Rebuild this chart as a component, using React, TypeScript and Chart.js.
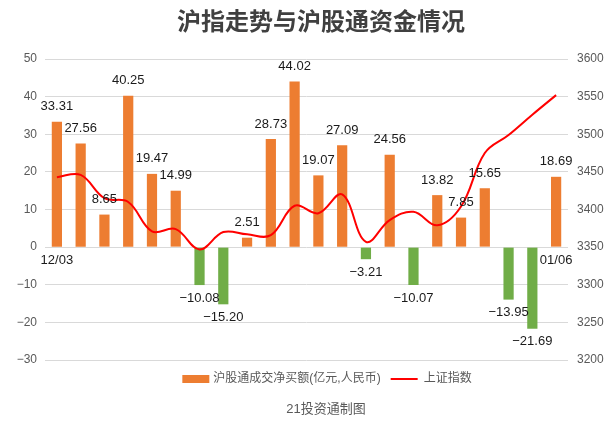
import React, { useEffect, useRef } from "react";
import { Chart, registerables } from "chart.js";

Chart.register(...registerables);

const categories = [
  "12/03", "12/04", "12/07", "12/08", "12/09", "12/10", "12/11", "12/14", "12/15", "12/16", "12/17",
  "12/18", "12/21", "12/22", "12/23", "12/28", "12/29", "12/30", "12/31", "01/04", "01/05", "01/06",
];
const netBuy = [
  33.31, 27.56, 8.65, 40.25, 19.47, 14.99, -10.08, -15.2, 2.51, 28.73, 44.02,
  19.07, 27.09, -3.21, 24.56, -10.07, 13.82, 7.85, 15.65, -13.95, -21.69, 18.69,
];
const shIndex = [
  3443, 3446, 3415, 3410, 3371, 3374, 3347, 3370, 3367, 3366, 3405,
  3395, 3420, 3357, 3386, 3397, 3379, 3404, 3475, 3499, 3526, 3552,
];
const leftAxis = { min: -30, max: 50, step: 10 };
const rightAxis = { min: 3200, max: 3600, step: 50 };
const TITLE = "沪指走势与沪股通资金情况";
const BAR_LABEL = "沪股通成交净买额(亿元,人民币)";
const LINE_LABEL = "上证指数";
const SOURCE = "21投资通制图";

const FONT = '"Liberation Sans", "Noto Sans CJK SC", sans-serif';
const CJK = '"Noto Sans CJK SC", "Liberation Sans", sans-serif';
const ORANGE = "#ED7D31";
const GREEN = "#70AD47";
const RED = "#FF0000";

const fmt = (v: number) => (v < 0 ? "\u2212" + Math.abs(v).toFixed(2) : v.toFixed(2));
const fmtInt = (v: number) => (v < 0 ? "\u2212" + Math.abs(v) : String(v));

const labelsPlugin = {
  id: "barValueLabels",
  afterDatasetsDraw(chart: any) {
    const meta = chart.getDatasetMeta(0);
    const ctx = chart.ctx;
    ctx.save();
    ctx.font = `13px ${FONT}`;
    ctx.fillStyle = "#1a1a1a";
    ctx.textAlign = "center";
    ctx.textBaseline = "middle";
    meta.data.forEach((el: any, i: number) => {
      const v = netBuy[i];
      const y = v >= 0 ? el.y - 15 : el.y + 13;
      ctx.fillText(fmt(v), el.x, y);
    });
    ctx.restore();
  },
};

const textPlugin = {
  id: "texts",
  afterDraw(chart: any) {
    const ctx = chart.ctx;
    const ds = chart.data.datasets;
    ctx.save();
    ctx.textBaseline = "middle";
    ctx.textAlign = "center";
    ctx.font = `bold 24px ${CJK}`;
    ctx.fillStyle = "#404040";
    ctx.fillText(TITLE, 321, 21);

    ctx.font = `12px ${FONT}`;
    const l1 = ds[0].label;
    const l2 = ds[1].label;
    const w1 = ctx.measureText(l1).width;
    const w2 = ctx.measureText(l2).width;
    const total = 27 + 4 + w1 + 10 + 27 + 6 + w2;
    let x = 327 - total / 2;
    const y = 379;
    ctx.fillStyle = ORANGE;
    ctx.fillRect(x, y - 4, 27, 8);
    x += 31;
    ctx.textAlign = "left";
    ctx.fillStyle = "#595959";
    ctx.fillText(l1, x, y);
    x += w1 + 10;
    ctx.strokeStyle = RED;
    ctx.lineWidth = 2;
    ctx.beginPath();
    ctx.moveTo(x, y);
    ctx.lineTo(x + 27, y);
    ctx.stroke();
    x += 33;
    ctx.fillText(l2, x, y);

    ctx.font = `13px ${FONT}`;
    ctx.textAlign = "center";
    ctx.fillStyle = "#595959";
    ctx.fillText(SOURCE, 326, 409);
    ctx.restore();
  },
};

export default function App() {
  const ref = useRef<HTMLCanvasElement | null>(null);
  useEffect(() => {
    if (!ref.current) return;
    const chart = new Chart(ref.current, {
      type: "bar",
      data: {
        labels: categories,
        datasets: [
          {
            type: "bar",
            label: BAR_LABEL,
            data: netBuy,
            backgroundColor: (c: any) => (c.raw < 0 ? GREEN : ORANGE),
            barPercentage: 0.43,
            categoryPercentage: 1,
            yAxisID: "y",
            order: 1,
          },
          {
            type: "line",
            label: LINE_LABEL,
            data: shIndex,
            borderColor: RED,
            backgroundColor: RED,
            borderWidth: 2,
            pointRadius: 0,
            tension: 0.38,
            yAxisID: "y1",
            order: 0,
          } as any,
        ],
      },
      options: {
        responsive: false,
        animation: false,
        devicePixelRatio: 1,
        layout: { padding: { top: 59, bottom: 73, left: 0, right: 0 } },
        plugins: {
          legend: { display: false },
          title: { display: false },
          tooltip: { enabled: false },
        },
        scales: {
          x: {
            position: { y: 0 } as any,
            offset: true,
            grid: { display: false, drawTicks: false },
            border: { display: false },
            ticks: {
              autoSkip: false,
              maxRotation: 0,
              padding: 5,
              color: "#1a1a1a",
              font: { size: 13, family: FONT },
              callback: (_v: any, i: number) =>
                i === 0 || i === categories.length - 1 ? categories[i] : "",
            },
          },
          y: {
            position: "left",
            min: leftAxis.min,
            max: leftAxis.max,
            ticks: {
              stepSize: leftAxis.step,
              padding: 8,
              color: "#595959",
              font: { size: 12, family: FONT },
              callback: (v: any) => fmtInt(Number(v)),
            },
            grid: { color: "#d9d9d9", drawTicks: false },
            border: { display: false },
            afterFit: (s: any) => {
              s.width = 45;
            },
          },
          y1: {
            position: "right",
            min: rightAxis.min,
            max: rightAxis.max,
            ticks: {
              stepSize: rightAxis.step,
              padding: 9,
              color: "#595959",
              font: { size: 12, family: FONT },
              callback: (v: any) => String(v),
            },
            grid: { display: false, drawTicks: false },
            border: { display: false },
            afterFit: (s: any) => {
              s.width = 42;
            },
          },
        },
      },
      plugins: [labelsPlugin, textPlugin],
    });
    return () => chart.destroy();
  }, []);
  return (
    <div style={{ position: "fixed", left: 0, top: 0, width: 610, height: 433, background: "#fff" }}>
      <canvas ref={ref} width={610} height={433} style={{ display: "block" }} />
    </div>
  );
}
